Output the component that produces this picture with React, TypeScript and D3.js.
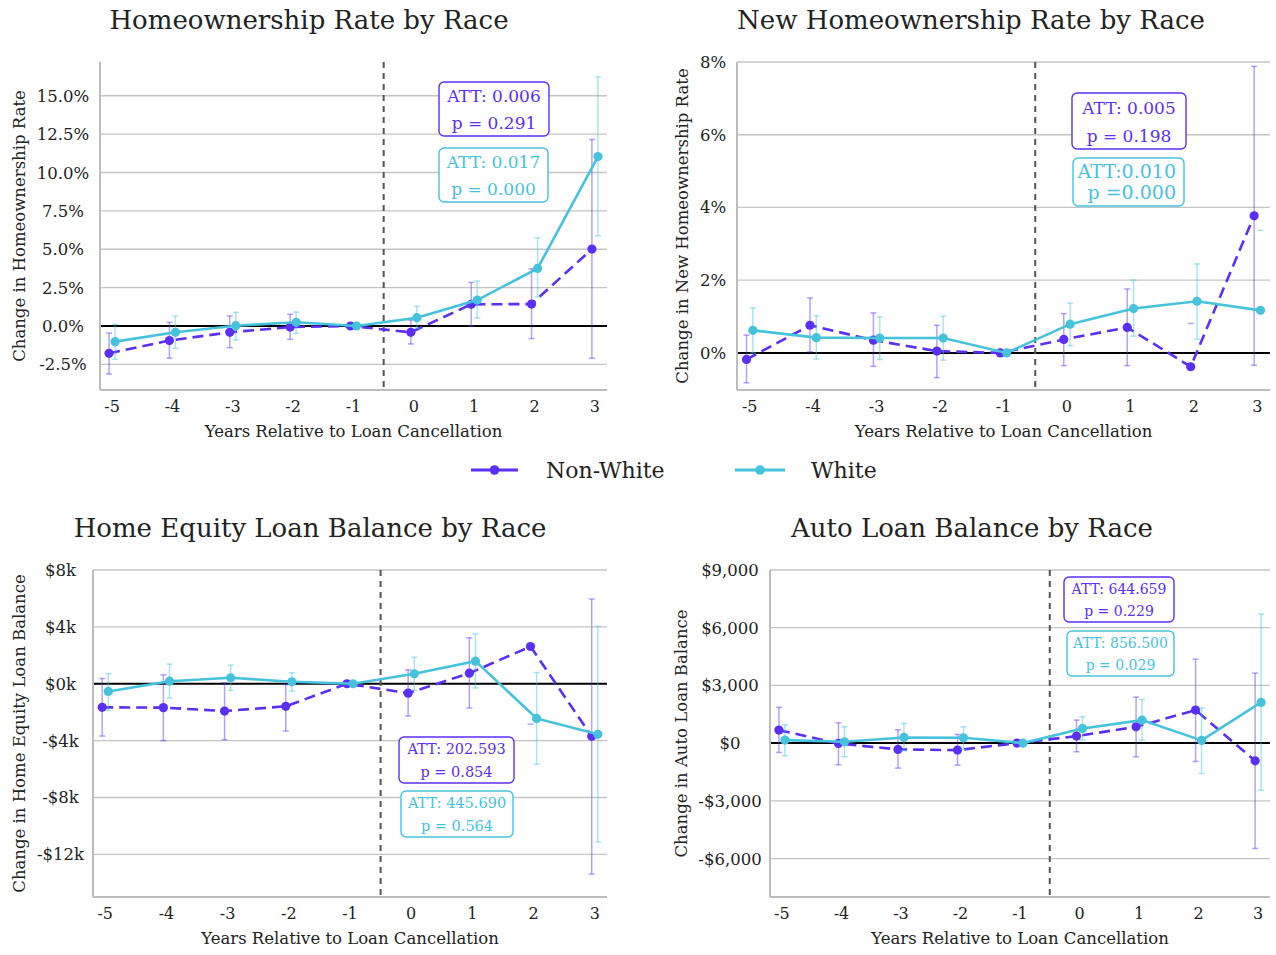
import React from "react";
import * as d3 from "d3";

// Event-study estimates by race, years relative to loan cancellation
const years = [-5, -4, -3, -2, -1, 0, 1, 2, 3];
const seriesNames = ["Non-White", "White"];

// Homeownership rate (percentage points)
const homeNW = [-1.78, -0.95, -0.41, -0.07, 0, -0.41, 1.41, 1.43, 5.01];
const homeNWLo = [-3.13, -2.1, -1.41, -0.87, null, -1.17, 0.0, -0.82, -2.1];
const homeNWHi = [-0.46, 0.24, 0.65, 0.76, null, 0.39, 2.84, 3.73, 12.15];
const homeW = [-1.02, -0.41, 0.02, 0.24, 0, 0.54, 1.69, 3.75, 11.04];
const homeWLo = [-2.17, -1.45, -0.91, -0.48, null, -0.15, 0.52, 1.91, 5.88];
const homeWHi = [0.11, 0.65, 0.89, 0.91, null, 1.28, 2.93, 5.75, 16.23];
const homeTicks = [-2.5, 0, 2.5, 5, 7.5, 10, 12.5, 15];

// New homeownership rate (percentage points)
const newNW = [-0.18, 0.76, 0.35, 0.05, 0, 0.37, 0.7, -0.38, 3.77];
const newNWLo = [-0.82, 0.03, -0.37, -0.68, null, -0.35, -0.35, null, -0.34];
const newNWHi = [0.49, 1.51, 1.1, 0.76, null, 1.08, 1.76, 0.81, 7.88];
const newW = [0.62, 0.42, 0.41, 0.41, 0, 0.79, 1.22, 1.42, 1.17];
const newWLo = [0.0, -0.17, -0.18, -0.2, null, 0.2, 0.46, 0.38, null];
const newWHi = [1.24, 1.02, 0.99, 1.01, null, 1.37, 2.0, 2.45, 3.37];
const newTicks = [0, 2, 4, 6, 8];

// Home equity loan balance (dollars)
const heNW = [-1660, -1680, -1920, -1590, 0, -660, 740, 2620, -3700];
const heNWLo = [-3680, -4000, -3930, -3330, null, -2270, -1710, -2840, -13390];
const heNWHi = [370, 630, 70, -50, null, 980, 3230, null, 5960];
const heW = [-540, 180, 420, 140, 0, 700, 1590, -2440, -3560];
const heWLo = [-1870, -1010, -470, -520, null, -470, -300, -5660, -11120];
const heWHi = [700, 1380, 1310, 770, null, 1870, 3510, 790, 4040];
const heTicks = [-12000, -8000, -4000, 0, 4000, 8000];

// Auto loan balance (dollars)
const autoNW = [676, -17, -328, -364, 0, 364, 848, 1716, -919];
const autoNWLo = [-484, -1128, -1300, -1144, null, -451, -711, -953, -5476];
const autoNWHi = [1856, 1055, 692, 452, null, 1196, 2392, 4367, 3640];
const autoW = [156, 69, 295, 277, 0, 763, 1196, 140, 2116];
const autoWLo = [-659, -711, -399, -330, null, 156, 140, -1577, -2444];
const autoWHi = [952, 848, 1023, 848, null, 1369, 2270, 1837, 6707];
const autoTicks = [-6000, -3000, 0, 3000, 6000, 9000];

// Average treatment effects shown in each panel
const attHome = ["ATT: 0.006", "p = 0.291", "ATT: 0.017", "p = 0.000"];
const attNew = ["ATT: 0.005", "p = 0.198", "ATT:0.010", "p =0.000"];
const attHE = ["ATT: 202.593", "p = 0.854", "ATT: 445.690", "p = 0.564"];
const attAuto = ["ATT: 644.659", "p = 0.229", "ATT: 856.500", "p = 0.029"];

const COLORS = ["#5b2ff5", "#45c3dc"];
const FONT = "'DejaVu Serif', serif";
const TEXT = "#222";

type Num = number | null;
type Series = { y: number[]; lo: Num[]; hi: Num[] };

interface Box {
  x: number;
  y: number;
  w: number;
  h: number;
  fs: number;
  l1: number;
  l2: number;
  align?: "end";
}

interface PanelSpec {
  title: string;
  titleX: number;
  yLabel: string;
  left: number;
  right: number;
  top: number;
  bottom: number;
  domain: [number, number];
  ticks: number[];
  fmt: (v: number) => string;
  tickCenter: number;
  yLabelX: number;
  series: Series[];
  att: string[];
  boxes: Box[];
}

const fmtPct1 = (v: number) => (v < 0 ? "-" : "") + `${d3.format(".1f")(Math.abs(v))}%`;
const fmtPct0 = (v: number) => (v < 0 ? "-" : "") + `${d3.format("d")(Math.abs(v))}%`;
const fmtK = (v: number) => (v < 0 ? "-" : "") + `$${Math.abs(v) / 1000}k`;
const fmtDollar = (v: number) => (v < 0 ? "-" : "") + "$" + d3.format(",")(Math.abs(v));

const panels: PanelSpec[] = [
  {
    title: "Homeownership Rate by Race",
    titleX: 309,
    yLabel: "Change in Homeownership Rate",
    left: 100, right: 607, top: 62, bottom: 390,
    domain: [-4.17, 17.2], ticks: homeTicks, fmt: fmtPct1, tickCenter: 63, yLabelX: 19,
    series: [
      { y: homeNW, lo: homeNWLo, hi: homeNWHi },
      { y: homeW, lo: homeWLo, hi: homeWHi },
    ],
    att: attHome,
    boxes: [
      { x: 439, y: 82, w: 110, h: 54, fs: 17, l1: 20, l2: 47 },
      { x: 439, y: 148, w: 109, h: 54, fs: 17, l1: 20, l2: 47 },
    ],
  },
  {
    title: "New Homeownership Rate by Race",
    titleX: 971,
    yLabel: "Change in New Homeownership Rate",
    left: 737, right: 1270, top: 62, bottom: 390,
    domain: [-1.02, 8], ticks: newTicks, fmt: fmtPct0, tickCenter: 713, yLabelX: 682,
    series: [
      { y: newNW, lo: newNWLo, hi: newNWHi },
      { y: newW, lo: newWLo, hi: newWHi },
    ],
    att: attNew,
    boxes: [
      { x: 1072, y: 93, w: 114, h: 56, fs: 17, l1: 21, l2: 49 },
      { x: 1073, y: 158, w: 111, h: 48, fs: 19, l1: 20, l2: 41, align: "end" },
    ],
  },
  {
    title: "Home Equity Loan Balance by Race",
    titleX: 310,
    yLabel: "Change in Home Equity Loan Balance",
    left: 93, right: 607, top: 570, bottom: 897,
    domain: [-15000, 8000], ticks: heTicks, fmt: fmtK, tickCenter: 60.5, yLabelX: 19,
    series: [
      { y: heNW, lo: heNWLo, hi: heNWHi },
      { y: heW, lo: heWLo, hi: heWHi },
    ],
    att: attHE,
    boxes: [
      { x: 399, y: 737, w: 115, h: 46, fs: 14.5, l1: 17, l2: 40 },
      { x: 401, y: 791, w: 112, h: 46, fs: 14.5, l1: 17, l2: 40 },
    ],
  },
  {
    title: "Auto Loan Balance by Race",
    titleX: 972,
    yLabel: "Change in Auto Loan Balance",
    left: 770, right: 1270, top: 570, bottom: 897,
    domain: [-8000, 9000], ticks: autoTicks, fmt: fmtDollar, tickCenter: 730, yLabelX: 681,
    series: [
      { y: autoNW, lo: autoNWLo, hi: autoNWHi },
      { y: autoW, lo: autoWLo, hi: autoWHi },
    ],
    att: attAuto,
    boxes: [
      { x: 1064, y: 577, w: 110, h: 45, fs: 14, l1: 17, l2: 39 },
      { x: 1067, y: 631, w: 107, h: 45, fs: 14, l1: 17, l2: 39 },
    ],
  },
];

const OFFSETS = [-0.05, 0.05];

function Panel({ p }: { p: PanelSpec }) {
  const x = d3.scaleLinear().domain([-5.2, 3.2]).range([p.left, p.right]);
  const y = d3.scaleLinear().domain(p.domain).range([p.bottom, p.top]);
  const cx = (p.left + p.right) / 2;
  const cy = (p.top + p.bottom) / 2;
  const cap = 3;

  return (
    <g>
      <text x={p.titleX} y={p.top - 33} textAnchor="middle" fontSize={26} fill={TEXT} fontFamily={FONT}>
        {p.title}
      </text>

      {/* horizontal grid, zero line in black */}
      {p.ticks.map((t) => (
        <line
          key={t}
          x1={p.left}
          x2={p.right}
          y1={y(t)}
          y2={y(t)}
          stroke={t === 0 ? "#000" : "#c4c4c4"}
          strokeWidth={t === 0 ? 2 : 1.3}
        />
      ))}
      {p.ticks.map((t) => (
        <text key={"l" + t} x={p.tickCenter} y={y(t) + 6} textAnchor="middle" fontSize={16.5} fill={TEXT} fontFamily={FONT}>
          {p.fmt(t)}
        </text>
      ))}

      {/* axes */}
      <line x1={p.left} x2={p.left} y1={p.top} y2={p.bottom} stroke="#bdbdbd" strokeWidth={2} />
      <line x1={p.left} x2={p.right} y1={p.bottom} y2={p.bottom} stroke="#bdbdbd" strokeWidth={2} />
      {years.map((yr) => (
        <text key={yr} x={x(yr)} y={p.bottom + 22} textAnchor="middle" fontSize={16} fill={TEXT} fontFamily={FONT}>
          {yr}
        </text>
      ))}
      <text x={cx} y={p.bottom + 47} textAnchor="middle" fontSize={16.5} fill={TEXT} fontFamily={FONT}>
        Years Relative to Loan Cancellation
      </text>
      <text
        transform={`translate(${p.yLabelX},${cy}) rotate(-90)`}
        textAnchor="middle"
        dy="0.35em"
        fontSize={16.5}
        fill={TEXT}
        fontFamily={FONT}
      >
        {p.yLabel}
      </text>

      {/* treatment onset */}
      <line
        x1={x(-0.5)}
        x2={x(-0.5)}
        y1={p.top}
        y2={p.bottom}
        stroke="#555"
        strokeWidth={2}
        strokeDasharray="6,5"
      />

      {p.series.map((s, si) => {
        const color = COLORS[si];
        const xs = years.map((yr) => x(yr + OFFSETS[si]));
        const line = d3
          .line<number>()
          .x((_, i) => xs[i])
          .y((v) => y(v));
        return (
          <g key={si}>
            {years.map((_, i) => {
              const lo = s.lo[i];
              const hi = s.hi[i];
              return (
                <g key={i} stroke={color} strokeOpacity={0.45} strokeWidth={1.5}>
                  {lo !== null && hi !== null && <line x1={xs[i]} x2={xs[i]} y1={y(lo)} y2={y(hi)} />}
                  {lo !== null && <line x1={xs[i] - cap} x2={xs[i] + cap} y1={y(lo)} y2={y(lo)} />}
                  {hi !== null && <line x1={xs[i] - cap} x2={xs[i] + cap} y1={y(hi)} y2={y(hi)} />}
                </g>
              );
            })}
            <path
              d={line(s.y) || ""}
              fill="none"
              stroke={color}
              strokeWidth={2.6}
              strokeDasharray={si === 0 ? "11,6" : undefined}
            />
            {s.y.map((v, i) => (
              <circle key={i} cx={xs[i]} cy={y(v)} r={4.6} fill={color} />
            ))}
          </g>
        );
      })}

      {p.boxes.map((b, bi) => {
        const tx = b.align === "end" ? b.x + b.w - 8 : b.x + b.w / 2;
        const anchor = b.align === "end" ? "end" : "middle";
        return (
          <g key={"b" + bi}>
            <rect x={b.x} y={b.y} width={b.w} height={b.h} rx={5} fill="#fff" stroke={COLORS[bi]} strokeWidth={1.4} />
            <text x={tx} y={b.y + b.l1} textAnchor={anchor} fontSize={b.fs} fill={COLORS[bi]} fontFamily={FONT}>
              {p.att[bi * 2]}
            </text>
            <text x={tx} y={b.y + b.l2} textAnchor={anchor} fontSize={b.fs} fill={COLORS[bi]} fontFamily={FONT}>
              {p.att[bi * 2 + 1]}
            </text>
          </g>
        );
      })}
    </g>
  );
}

function Legend() {
  const items = [
    { x1: 471, x2: 518, tx: 546 },
    { x1: 735, x2: 785, tx: 811 },
  ];
  return (
    <g>
      {items.map((it, i) => (
        <g key={i}>
          <line x1={it.x1} x2={it.x2} y1={470} y2={470} stroke={COLORS[i]} strokeWidth={3} />
          <circle cx={(it.x1 + it.x2) / 2} cy={470} r={4.8} fill={COLORS[i]} />
          <text x={it.tx} y={478} fontSize={22} fill={TEXT} fontFamily={FONT}>
            {seriesNames[i]}
          </text>
        </g>
      ))}
    </g>
  );
}

export default function App() {
  return (
    <svg
      width={1276}
      height={955}
      style={{ position: "absolute", left: 0, top: 0, background: "#fff" }}
    >
      <rect width={1276} height={955} fill="#fff" />
      {panels.map((p, i) => (
        <Panel key={i} p={p} />
      ))}
      <Legend />
    </svg>
  );
}
